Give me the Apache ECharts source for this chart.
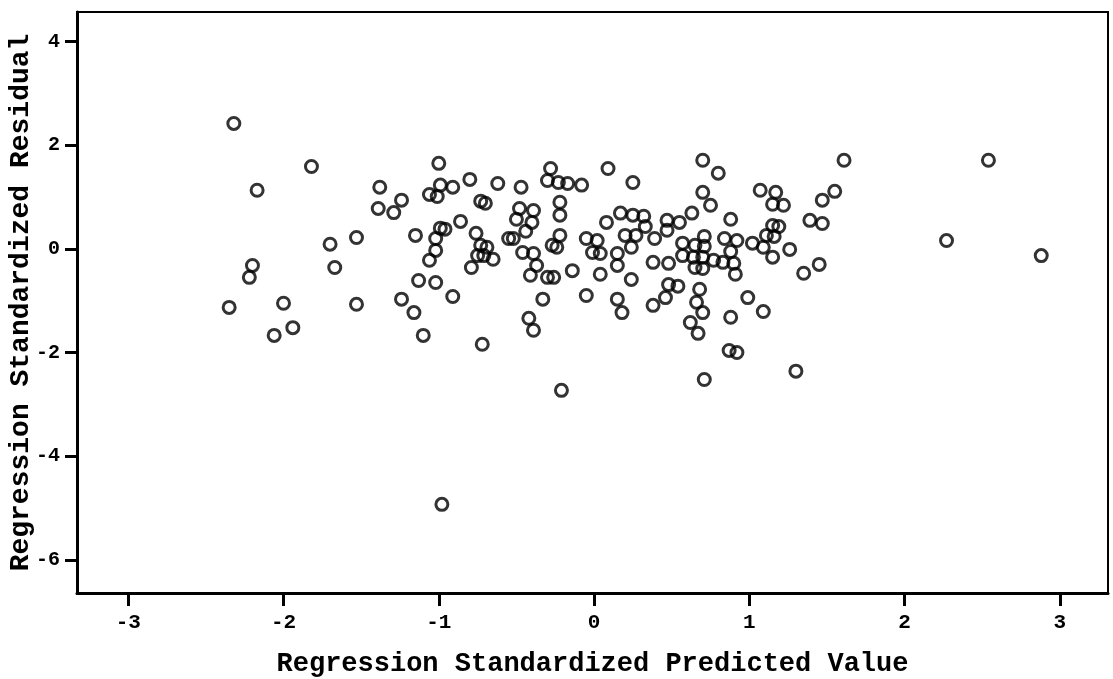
<!DOCTYPE html>
<html>
<head>
<meta charset="utf-8">
<script src="https://cdn.jsdelivr.net/npm/echarts@6/dist/echarts.min.js"></script>
<style>
  html, body { margin: 0; padding: 0; background: #fff; }
  #chart { width: 1113px; height: 679px; }
</style>
</head>
<body>
<div id="chart"></div>
<script>
// regression standardized predicted value (x)
const predicted = [
  -2.32,-1.82,-2.17,-1.38,-1.39,-1.24,-1.29,-1.53,-1.70,-1.67,
  -2.20,-2.22,-2.35,-2.00,-1.94,-2.06,-1.53,-1.24,-1.16,-1.10,
  -1.15,-1.00,-0.99,-0.91,-1.06,-1.01,-0.80,-0.62,-0.47,-0.73,
  -0.70,-0.86,-0.99,-0.96,-1.02,-1.02,-1.06,-1.13,-1.02,-0.91,
  -0.72,-0.76,-0.73,-0.69,-0.75,-0.71,-0.65,-0.79,-0.55,-0.52,
  -0.48,-0.50,-0.39,-0.40,-0.44,-0.46,-0.39,-0.37,-0.41,-0.33,
  -0.42,-0.39,-0.28,-0.30,-0.23,-0.17,-0.08,-0.22,-0.22,-0.22,
  -0.27,-0.24,-0.30,-0.26,-0.14,-0.05,-0.21,0.09,0.25,-0.05,
  0.02,-0.01,0.04,0.04,0.08,0.17,0.25,0.32,0.33,0.20,
  0.27,0.24,0.15,0.15,0.24,0.15,0.18,0.39,0.47,0.47,
  0.55,0.63,0.70,0.80,0.70,0.75,0.88,0.38,0.48,0.48,
  0.54,0.46,0.38,0.57,0.57,0.65,0.71,0.71,0.64,0.70,
  0.65,0.70,0.77,0.83,0.90,0.84,0.92,0.88,0.91,0.68,
  0.66,0.70,0.62,0.67,0.88,0.87,0.92,0.71,0.99,1.09,
  1.02,1.07,1.17,1.15,1.22,1.15,1.19,1.11,1.16,1.09,
  1.15,1.26,1.39,1.47,1.47,1.55,1.61,1.35,1.45,1.30,
  2.27,2.54,2.88,-0.98
];
// regression standardized residual (y)
const residual = [
  2.42,1.59,1.13,1.19,0.78,0.94,0.70,0.22,0.09,-0.36,
  -0.32,-0.55,-1.13,-1.05,-1.52,-1.67,-1.07,-0.97,-1.23,-1.67,
  0.26,1.65,1.23,1.19,1.05,1.01,1.34,1.26,1.19,0.92,
  0.88,0.53,0.40,0.38,0.20,-0.03,-0.22,-0.61,-0.65,-0.92,
  -1.84,0.30,0.07,0.03,-0.13,-0.13,-0.20,-0.36,0.20,0.20,
  0.78,0.57,0.74,0.51,0.34,-0.07,-0.09,-0.32,-0.51,-0.97,
  -1.34,-1.57,1.55,1.32,1.28,1.26,1.23,0.90,0.65,0.26,
  0.07,0.03,-0.55,-0.55,-0.42,-0.90,-2.73,1.55,1.28,0.20,
  0.16,-0.07,-0.09,-0.49,0.51,0.69,0.65,0.63,0.43,0.26,
  0.26,0.03,-0.09,-0.32,-0.59,-0.97,-1.23,0.20,0.55,0.36,
  0.51,0.69,1.71,1.46,1.09,0.84,0.57,-0.26,-0.28,-0.69,
  -0.72,-0.94,-1.09,0.11,-0.13,0.07,0.05,0.24,-0.16,-0.16,
  -0.36,-0.38,-0.22,-0.26,-0.28,0.20,0.16,-0.05,-0.49,-0.78,
  -1.03,-1.23,-1.42,-1.63,-1.32,-1.96,-2.00,-2.52,-0.94,-1.21,
  0.11,1.13,1.09,0.86,0.84,0.45,0.43,0.26,0.24,0.03,
  -0.16,-0.01,0.55,0.49,0.94,1.11,1.71,-0.47,-0.30,-2.36,
  0.16,1.71,-0.13,-4.93
];
const xTicks = [-3, -2, -1, 0, 1, 2, 3];
const yTicks = [-6, -4, -2, 0, 2, 4];

const points = predicted.map((x, i) => [x, residual[i]]);

const mono = '"Liberation Mono", "DejaVu Sans Mono", monospace';

let chart = echarts.init(document.getElementById('chart'));
chart.setOption({
  animation: false,
  backgroundColor: '#fff',
  grid: {
    left: 77, right: 5, top: 12, bottom: 86,
    outerBoundsMode: 'none',
    containLabel: false,
    show: true, borderColor: '#000', borderWidth: 2
  },
  xAxis: {
    type: 'value',
    min: -3.33, max: 3.31,
    name: 'Regression Standardized Predicted Value',
    nameLocation: 'middle',
    nameGap: 58,
    nameMoveOverlap: false,
    nameTextStyle: { fontFamily: mono, fontWeight: 'bold', fontSize: 27, color: '#000' },
    axisLine: { show: true, onZero: false, lineStyle: { color: '#000', width: 3 } },
    axisTick: { show: true, length: 13, customValues: xTicks, lineStyle: { color: '#000', width: 3 } },
    axisLabel: { customValues: xTicks, margin: 19, fontFamily: mono, fontWeight: 'bold', fontSize: 21, color: '#000' },
    splitLine: { show: false }
  },
  yAxis: {
    type: 'value',
    min: -6.64, max: 4.57,
    name: 'Regression Standardized Residual',
    nameLocation: 'middle',
    nameGap: 42,
    nameMoveOverlap: false,
    nameTextStyle: { fontFamily: mono, fontWeight: 'bold', fontSize: 28, color: '#000' },
    axisLine: { show: true, onZero: false, lineStyle: { color: '#000', width: 3 } },
    axisTick: { show: true, length: 12, customValues: yTicks, lineStyle: { color: '#000', width: 3 } },
    axisLabel: { customValues: yTicks, margin: 17, fontFamily: mono, fontWeight: 'bold', fontSize: 20, color: '#000' },
    splitLine: { show: false }
  },
  series: [{
    type: 'scatter',
    data: points,
    symbol: 'circle',
    symbolSize: 12,
    itemStyle: { color: 'rgba(0,0,0,0)', borderColor: '#000', borderWidth: 3 }
  }]
});
window.addEventListener('resize', () => {
  chart.resize();
});
</script>
</body>
</html>
